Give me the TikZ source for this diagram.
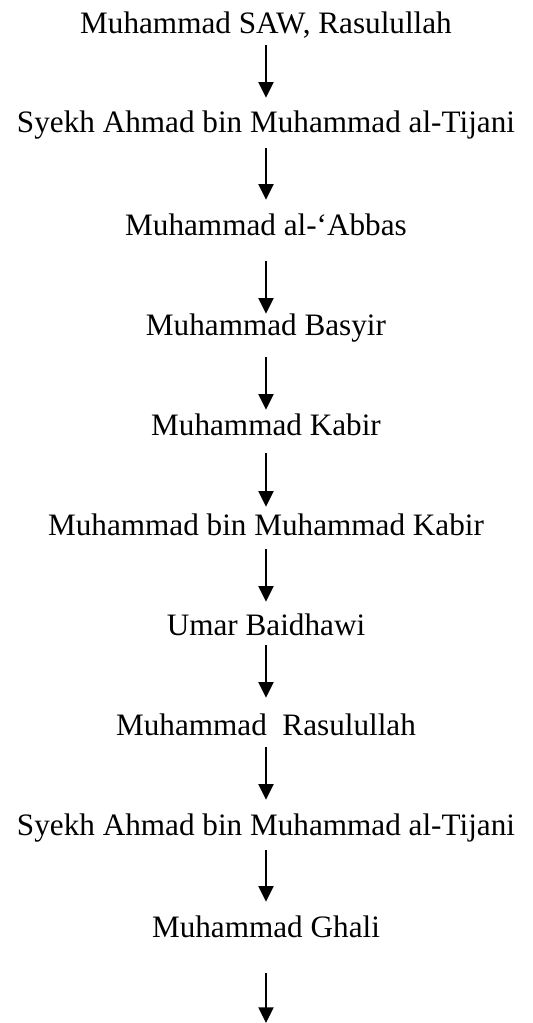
\documentclass[tikz,border=0pt]{standalone}
\usepackage{fontspec}
\setmainfont{Liberation Serif}
\usetikzlibrary{arrows.meta}

\begin{document}
\begin{tikzpicture}[
    x=0.5pt, y=-0.5pt,
    sheikh/.style={anchor=base, inner sep=0pt, text height=10pt, text depth=0pt,
        font=\fontsize{15.6}{18}\selectfont},
    arrow/.style={-{Triangle[width=7.6pt, length=7.8pt]}, line width=0.65pt},
]
    \useasboundingbox (0,0) rectangle (532,1023);

    \node[sheikh] (saw)      at (266,  33) {Muhammad SAW, Rasulullah};
    \node[sheikh] (tijani)   at (266, 132) {Syekh Ahmad bin Muhammad al-Tijani};
    \node[sheikh] (abbas)    at (266, 235) {Muhammad al-‘Abbas};
    \node[sheikh] (basyir)   at (266, 335) {Muhammad Basyir};
    \node[sheikh] (kabir)    at (266, 435) {Muhammad Kabir};
    \node[sheikh] (binkabir) at (266, 535) {Muhammad bin Muhammad Kabir};
    \node[sheikh] (umar)     at (266, 635) {Umar Baidhawi};
    \node[sheikh] (rasul)    at (266, 735) {Muhammad~~Rasulullah};
    \node[sheikh] (tijanib)  at (266, 835) {Syekh Ahmad bin Muhammad al-Tijani};
    \node[sheikh] (ghali)    at (266, 937) {Muhammad Ghali};
    \coordinate (bottom) at (266, 1023);

    \draw[arrow, shorten <=6pt,   shorten >=7pt]   (saw) -- (tijani);
    \draw[arrow, shorten <=8pt,   shorten >=7.5pt] (tijani) -- (abbas);
    \draw[arrow, shorten <=13pt,  shorten >=0.5pt] (abbas) -- (basyir);
    \draw[arrow, shorten <=11pt,  shorten >=2.5pt] (basyir) -- (kabir);
    \draw[arrow, shorten <=9pt,   shorten >=4pt]   (kabir) -- (binkabir);
    \draw[arrow, shorten <=7pt,   shorten >=6.5pt] (binkabir) -- (umar);
    \draw[arrow, shorten <=5pt,   shorten >=8.5pt] (umar) -- (rasul);
    \draw[arrow, shorten <=6pt,   shorten >=7.5pt] (rasul) -- (tijanib);
    \draw[arrow, shorten <=7.5pt, shorten >=7.5pt] (tijanib) -- (ghali);
    \draw[arrow, shorten <=18pt]                   (ghali) -- (bottom);
\end{tikzpicture}
\end{document}
